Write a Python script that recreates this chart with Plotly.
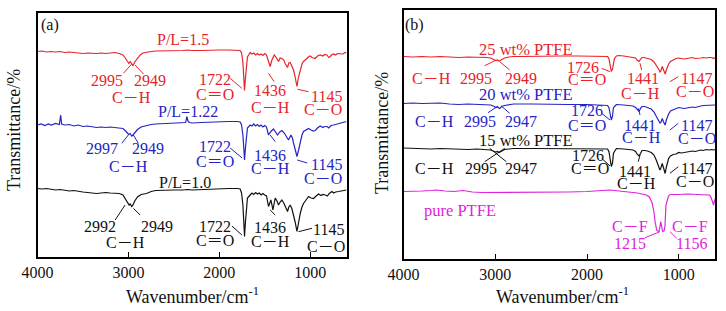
import plotly.graph_objects as go

# ---------------- data (wavenumber / cm-1, transmittance in arbitrary offset units) -------------
wn_a_red = [4000,3950,3900,3850,3800,3750,3700,3650,3600,3550,3500,3450,3400,3350,3300,3250,3200,3150,3100,
            3060,3030,3010,2995,2980,2965,2949,2930,2900,2870,2840,2800,2750,2700,
            2600,2500,2400,2350,2300,2200,2100,2000,1900,1800,
            1770,1755,1740,1730,1722,1712,1700,1690,1670,1660,
            1640,1620,1600,1580,1560,1540,1520,1500,1480,1460,
            1440,1421,1395,1370,1348,1330,1311,1290,1275,1249,
            1235,1219,1200,1183,1165,1145,1130,1109,1090,1073,
            1050,1036,1015,1000,980,960,944,920,889,860,
            840,815,795,779,760,742,720,700,669,640,614,600]
t_a_red = [205.5,206,205,205.5,205,205.5,204.5,205,204.5,204,203.5,204,203.5,203.5,204,203.5,204,204.5,203.5,
           202,198.5,195.5,193.5,195.5,194,191.5,195,199,202,204,205,205.5,206,
           206,206.5,206.5,207,206.5,206.5,207,207,207,207,
           206.5,204,195,179,166.5,179,195,200,203,204.5,
           203,204,202,203.5,202,203,201.5,203.5,202,197,
           190.5,197,202,199,195.5,199,198.5,197,193.5,189.5,
           194,194.5,191,187,180,170.5,179,187,193,195.5,
           198,198.5,200.5,201,199.5,198.5,198.5,201,202,201,
           202.5,202,199.5,200.5,202.5,203,202,203.5,203.5,203,204.5,204]

wn_a_blue = [4000,3960,3920,3880,3850,3800,3760,3745,3735,3700,3650,3600,3550,3500,3450,3400,3350,3300,3250,3200,
             3150,3100,3060,3030,3010,2997,2980,2963,2949,2930,2900,2860,2800,2750,2700,2600,2500,2400,2370,2357,
             2345,2330,2300,2200,2100,2000,1900,1800,1770,1755,1740,1730,1722,1712,1700,1690,1660,1640,1620,1600,
             1580,1560,1540,1520,1500,1480,1458,1432,1403,1380,1359,1335,1311,1285,1264,1238,1211,1195,1183,1165,
             1145,1127,1109,1090,1073,1045,1018,990,965,944,920,889,860,840,815,795,770,742,720,700,
             669,640,606,600]
t_a_blue = [132,133,131.5,133,132,133.5,132.5,142,133,132,132.5,131,132,130.5,131,130,129.5,130,129.5,130,
            129.5,129.5,128.5,126,124,122.5,123.5,121,122,124.5,127.5,130,131.5,132.5,133,133.5,133.5,134,134.5,140.5,
            136,134.5,134,134.5,135,135,135.5,135.5,135,132,122,109,97,109,123.5,129,132,131,133,131,
            132.5,130.5,132,130,131.5,130,122,125.5,128,125,122,125,126.5,124,120.5,117,122,119,114,108,
            100.5,107,115.5,122,125.5,127.5,128.5,127,126,126.5,129,131,129.5,130.5,130.5,129,131.5,132,132.5,133,
            133.5,134,135.5,135.5]

wn_a_black = [4000,3950,3900,3850,3800,3750,3700,3650,3600,3550,3500,3450,3400,3350,3300,3250,3200,3150,3100,
              3060,3030,3010,2992,2980,2963,2949,2930,2900,2860,2800,2750,2700,2600,2500,2400,2350,2300,2200,2100,
              2000,1900,1800,1770,1755,1740,1730,1722,1712,1700,1690,1660,1640,1620,1600,1580,1560,1540,1520,1500,
              1480,1458,1445,1432,1420,1410,1395,1384,1365,1348,1330,1311,1290,1274,1249,1235,1219,1200,1183,1165,
              1145,1127,1109,1090,1073,1045,1018,990,963,940,907,880,860,834,810,790,760,740,720,687,650,606,600]
t_a_black = [68.5,68,68.5,67.5,67,67.5,66.5,66,66.5,65.5,65,64.5,64,63.5,64,64.5,64,63.5,63.5,
             62,58,54.5,52,53,50.5,52,56,60,62.5,63.5,65.5,66.5,67,67,67,67.5,67,67.5,68,
             68,68.5,68.5,68,64,52,35,20.5,35,53.5,59,62,64,62.5,64.5,63,64,62,63.5,62,
             61,50.5,55,57,52,47,54,59,56,52,55,57,54,50.5,45.5,50,52,48,42,35,
             25.5,35,43.5,50,53.5,57,60.5,59,58.5,60.5,63,61.5,62.5,62,61,63.5,65.5,64,65,65.5,66,67,67]

wn_b_red = [4000,3900,3800,3700,3600,3500,3400,3300,3200,3100,3050,3010,2995,2975,2960,2947,2930,2900,2850,2800,
            2700,2500,2300,2100,1900,1800,1775,1760,1748,1735,1722,1712,1700,1680,1650,1600,1550,1500,1470,1455,
            1432,1415,1400,1380,1350,1300,1270,1245,1222,1205,1195,1180,1165,1148,1135,1120,1110,1090,1060,1030,
            1000,970,940,910,880,850,820,790,760,730,700,670,640,620,600]
t_b_red = [202.5,202,202.5,202,202.5,202,201.5,202,202,201.5,201,199.5,198.5,199,198,198.5,199.5,201,202,202.5,
           202.5,203,203,203,203,203,202.5,200,193,187.5,190,197,200.5,203,203.5,203,202.5,202,201,199,
           197.5,200,201.5,201.5,200.5,199.5,197,194,190.5,187,188,192.5,188,185,189,193,195,197.5,199,200.5,
           201,200.5,200,200.5,201,201.5,200.5,200.5,201,201.5,201,201.5,201.5,200.5,201.5]

wn_b_blue = [4000,3900,3800,3700,3600,3500,3400,3300,3200,3100,3050,3010,2995,2975,2955,2947,2930,2900,2850,2800,
             2600,2400,2200,2000,1800,1775,1760,1748,1735,1722,1712,1700,1680,1600,1550,1500,1470,1455,1432,1415,
             1400,1370,1340,1300,1270,1245,1222,1205,1195,1180,1165,1148,1135,1120,1110,1090,1060,1030,1000,970,
             940,910,880,850,820,790,760,730,700,670,640,620,600]
t_b_blue = [155.5,156,155.5,155.5,156,155,154.5,155,154.5,154.5,154,152.5,151.5,152,150.5,151,152.5,153.5,154.5,155,
            155,154.5,154.5,154.5,154,153.5,151,144,139,143,151,152.5,154.5,154,153.5,153,151.5,149.5,147.5,151,
            152.5,152.5,151.5,150,147,143,139,136,136.5,140.5,137,134,139,143,145,148,149,150.5,151.5,151,
            150.5,151,151.5,152,151.5,152.5,153,153.5,153.5,153.5,154,153.5,154]

wn_b_black = [4000,3900,3800,3700,3600,3500,3400,3300,3200,3100,3050,3010,2995,2975,2960,2947,2930,2900,2850,2800,
              2600,2400,2200,2000,1800,1775,1760,1748,1735,1722,1712,1700,1680,1600,1550,1500,1470,1455,1432,1415,
              1400,1370,1340,1300,1270,1245,1222,1205,1195,1180,1165,1148,1135,1120,1110,1090,1060,1030,1000,970,
              940,910,880,850,820,790,760,730,700,670,640,620,600]
t_b_black = [111,110.5,110.5,110,110.5,110,110,109.5,110,109.5,109,107.5,107,107.5,106.5,107,108,109.5,110,110.5,
             110.5,110.5,110.5,110.5,110.5,110,107,99,92.5,96,105.5,107.5,110.5,110,109.5,109,107.5,105,103,107,
             108.5,108.5,108,106.5,104,99,92.5,89,91,95.5,91,85.5,92,99,100.5,103,104.5,105,106.5,106,
             106.5,107.5,107.5,108,107.5,108.5,109,108.5,109.5,109,109.5,109,109.5]

wn_b_ptfe = [4000,3900,3800,3700,3643,3550,3450,3352,3250,3150,3000,2800,2600,2400,2200,2000,1900,1752,1600,1450,
             1353,1320,1290,1270,1258,1240,1228,1215,1205,1196,1185,1175,1160,1150,1139,1125,1113,1100,1081,1000,
             900,800,700,662,645,630,620,610,600]
t_b_ptfe = [67.5,67.5,68,68.5,69,68,67.5,68.5,67,66.5,66.5,66.5,66.5,66.5,67,67.5,68,69,67.5,66,
            64,62,56,47,37.5,29,28,27.5,32,37.5,32,27.5,28,33,54,59,62.5,64,64.5,64.5,
            65,64.5,64.5,64,61,55,54,58,60.5]

x_ticks = [4000, 3000, 2000, 1000]
x_tick_labels = ["4000", "3000", "2000", "1000"]

RED = "#e8232b"
BLUE = "#2424c4"
BLACK = "#111111"
MAG = "#dd25dd"
FONT = "Liberation Serif, Times New Roman, Noto Sans CJK SC, serif"

series = [
    ("a", wn_a_red, t_a_red, RED), ("a", wn_a_blue, t_a_blue, BLUE), ("a", wn_a_black, t_a_black, BLACK),
    ("b", wn_b_red, t_b_red, RED), ("b", wn_b_blue, t_b_blue, BLUE), ("b", wn_b_black, t_b_black, BLACK),
    ("b", wn_b_ptfe, t_b_ptfe, MAG),
]

fig = go.Figure()
for panel, xs, ys, col in series:
    assert len(xs) == len(ys)
    fig.add_trace(go.Scatter(x=xs, y=ys, mode="lines", line=dict(color=col, width=1.2),
                             xaxis="x" if panel == "a" else "x2",
                             yaxis="y" if panel == "a" else "y2",
                             showlegend=False, hoverinfo="skip"))

CH = "C\uff0dH"
CO = "C\uff0dO"
CEQO = "C\uff1dO"
CF = "C\uff0dF"

# (panel, wavenumber, value, text, color, size)
labels = [
    ("a", 3862, 232, "(a)", BLACK, 16),
    ("a", 2397, 218, "P/L=1.5", RED, 16),
    ("a", 3235, 177, "2995", RED, 16), ("a", 2761, 177, "2949", RED, 16), ("a", 2970, 160, CH, RED, 16),
    ("a", 2045, 178, "1722", RED, 16), ("a", 2045, 163, CEQO, RED, 16),
    ("a", 1440, 166.3, "1436", RED, 16), ("a", 1440, 150, CH, RED, 16),
    ("a", 815, 160.3, "1145", RED, 16), ("a", 856, 148, CO, RED, 16),
    ("a", 2343, 146, "P/L=1.22", BLUE, 16),
    ("a", 3293, 108.7, "2997", BLUE, 16), ("a", 2780, 108.7, "2949", BLUE, 16), ("a", 3000, 90.3, CH, BLUE, 16),
    ("a", 2045, 110.3, "1722", BLUE, 16), ("a", 2045, 95.3, CEQO, BLUE, 16),
    ("a", 1440, 102, "1436", BLUE, 16), ("a", 1440, 88.7, CH, BLUE, 16),
    ("a", 815, 93, "1145", BLUE, 16), ("a", 856, 78.7, CO, BLUE, 16),
    ("a", 2376, 74.7, "P/L=1.0", BLACK, 16),
    ("a", 3312, 30.3, "2992", BLACK, 16), ("a", 2687, 30.3, "2949", BLACK, 16), ("a", 3036, 14.3, CH, BLACK, 16),
    ("a", 2045, 30.3, "1722", BLACK, 16), ("a", 2045, 16.3, CEQO, BLACK, 16),
    ("a", 1440, 29.7, "1436", BLACK, 16), ("a", 1440, 15.3, CH, BLACK, 16),
    ("a", 797, 27.7, "1145", BLACK, 16), ("a", 823, 10.3, CO, BLACK, 16),

    ("b", 3879, 234, "(b)", BLACK, 16),
    ("b", 2662, 209.7, "25 wt% PTFE", RED, 16.5),
    ("b", 3698, 180.7, CH, RED, 16), ("b", 3207, 180.7, "2995", RED, 16), ("b", 2716, 180.7, "2949", RED, 16),
    ("b", 2044, 191.5, "1726", RED, 16), ("b", 2000, 180, CEQO, RED, 16),
    ("b", 1386, 180.7, "1441", RED, 16), ("b", 1422, 165.7, CH, RED, 16),
    ("b", 804, 180.7, "1147", RED, 16), ("b", 822, 167.3, CO, RED, 16),
    ("b", 2662, 165, "20 wt% PTFE", BLUE, 16.5),
    ("b", 3661, 137.3, CH, BLUE, 16), ("b", 3170, 137.3, "2995", BLUE, 16), ("b", 2716, 137.3, "2947", BLUE, 16),
    ("b", 2000, 149, "1726", BLUE, 16), ("b", 2000, 134, CEQO, BLUE, 16),
    ("b", 1422, 134, "1441", BLUE, 16), ("b", 1404, 121.3, CH, BLUE, 16),
    ("b", 804, 134, "1147", BLUE, 16), ("b", 804, 120.7, CO, BLUE, 16),
    ("b", 2662, 118.3, "15 wt% PTFE", BLACK, 16.5),
    ("b", 3661, 90.7, CH, BLACK, 16), ("b", 3153, 90.7, "2995", BLACK, 16), ("b", 2716, 90.7, "2947", BLACK, 16),
    ("b", 1986, 104, "1726", BLACK, 16), ("b", 1967, 90.7, CEQO, BLACK, 16),
    ("b", 1477, 87.3, "1441", BLACK, 16), ("b", 1458, 75.7, CH, BLACK, 16),
    ("b", 804, 90.7, "1147", BLACK, 16), ("b", 822, 77.3, CO, BLACK, 16),
    ("b", 3388, 49, "pure PTFE", MAG, 16.5),
    ("b", 1531, 32.3, CF, MAG, 16), ("b", 1531, 15.7, "1215", MAG, 16),
    ("b", 877, 32.3, CF, MAG, 16), ("b", 858, 15.7, "1156", MAG, 16),
]

# leader lines (panel, wn0, v0, wn1, v1, color)
leaders = [
    ("a", 3055, 183.7, 2963, 193, RED), ("a", 2835, 183, 2926, 192, RED),
    ("a", 1880, 178.7, 1751, 168.7, RED), ("a", 1396, 175.3, 1458, 183.7, RED), ("a", 1139, 167.7, 1018, 165.3, RED),
    ("a", 3073, 113.7, 3000, 122, BLUE), ("a", 2890, 113.7, 2945, 122, BLUE),
    ("a", 1880, 109, 1748, 99, BLUE), ("a", 1384, 115.3, 1440, 122, BLUE), ("a", 1142, 97, 1032, 94, BLUE),
    ("a", 3146, 37, 3036, 52, BLACK), ("a", 2871, 42, 2945, 48.7, BLACK),
    ("a", 1861, 31, 1751, 22, BLACK), ("a", 1384, 42, 1440, 47, BLACK), ("a", 1128, 25.3, 980, 28.7, BLACK),
    ("b", 3116, 193.3, 2989, 199, RED), ("b", 2952, 197.3, 2843, 189, RED),
    ("b", 1840, 190.7, 1749, 187.3, RED), ("b", 1404, 189, 1422, 195.7, RED), ("b", 1096, 177.3, 1004, 182.3, RED),
    ("b", 3080, 146.3, 2971, 153, BLUE), ("b", 2935, 153, 2843, 145.7, BLUE),
    ("b", 1840, 145.7, 1749, 139, BLUE), ("b", 1422, 144, 1441, 150.7, BLUE), ("b", 1096, 129, 1004, 135.7, BLUE),
    ("b", 3116, 97.3, 2897, 110.7, BLACK), ("b", 3061, 110.7, 2880, 97.3, BLACK),
    ("b", 1840, 100.7, 1749, 93, BLACK), ("b", 1441, 97.3, 1422, 104, BLACK), ("b", 1096, 85.7, 1004, 92.3, BLACK),
    ("b", 1368, 21.3, 1204, 27.3, MAG), ("b", 1096, 27.3, 1022, 20.7, MAG),
]

annotations = []
for panel, x, y, txt, col, size in labels:
    annotations.append(dict(x=x, y=y, xref="x" if panel == "a" else "x2", yref="y" if panel == "a" else "y2",
                            text=txt, showarrow=False, font=dict(family=FONT, size=size, color=col),
                            xanchor="center", yanchor="middle", borderpad=0))

shapes = []
for panel, x0, y0, x1, y1, col in leaders:
    shapes.append(dict(type="line", x0=x0, y0=y0, x1=x1, y1=y1,
                       xref="x" if panel == "a" else "x2", yref="y" if panel == "a" else "y2",
                       line=dict(color=col, width=1)))

# axis titles as paper annotations
W, H = 726, 311
for cx, cy in [(14, 130), (382, 133)]:
    annotations.append(dict(x=cx / W, y=1 - cy / H, xref="paper", yref="paper", text="Transmittance/%",
                            textangle=-90, showarrow=False, font=dict(family=FONT, size=18, color=BLACK),
                            xanchor="center", yanchor="middle"))
for cx in [192, 562]:
    annotations.append(dict(x=cx / W, y=1 - 295 / H, xref="paper", yref="paper",
                            text="Wavenumber/cm<sup>-1</sup>", showarrow=False,
                            font=dict(family=FONT, size=18, color=BLACK), xanchor="center", yanchor="middle"))

xcommon = dict(range=[4000, 600], tickvals=x_ticks, ticktext=x_tick_labels, ticks="inside", ticklen=5,
               tickwidth=1.2, tickcolor="black", showline=True, linecolor="black", linewidth=1.5, mirror=True,
               showgrid=False, zeroline=False, tickfont=dict(family=FONT, size=16, color=BLACK))
ycommon = dict(showticklabels=False, ticks="", showline=True, linecolor="black", linewidth=1.5, mirror=True,
               showgrid=False, zeroline=False)

fig.update_layout(
    width=W, height=H, margin=dict(l=0, r=0, t=0, b=0, autoexpand=False),
    paper_bgcolor="white", plot_bgcolor="white",
    xaxis=dict(domain=[37.5 / W, 346.5 / W], anchor="y", **xcommon),
    yaxis=dict(domain=[(H - 257) / H, (H - 13) / H], range=[0, 244], anchor="x", **ycommon),
    xaxis2=dict(domain=[403.6 / W, 715.4 / W], anchor="y2", **xcommon),
    yaxis2=dict(domain=[(H - 259) / H, (H - 10) / H], range=[0, 249], anchor="x2", **ycommon),
    annotations=annotations, shapes=shapes,
)

fig.write_html("out.html", config={"displayModeBar": False},
               post_script="document.body.style.margin='0';document.documentElement.style.overflow='hidden';")
